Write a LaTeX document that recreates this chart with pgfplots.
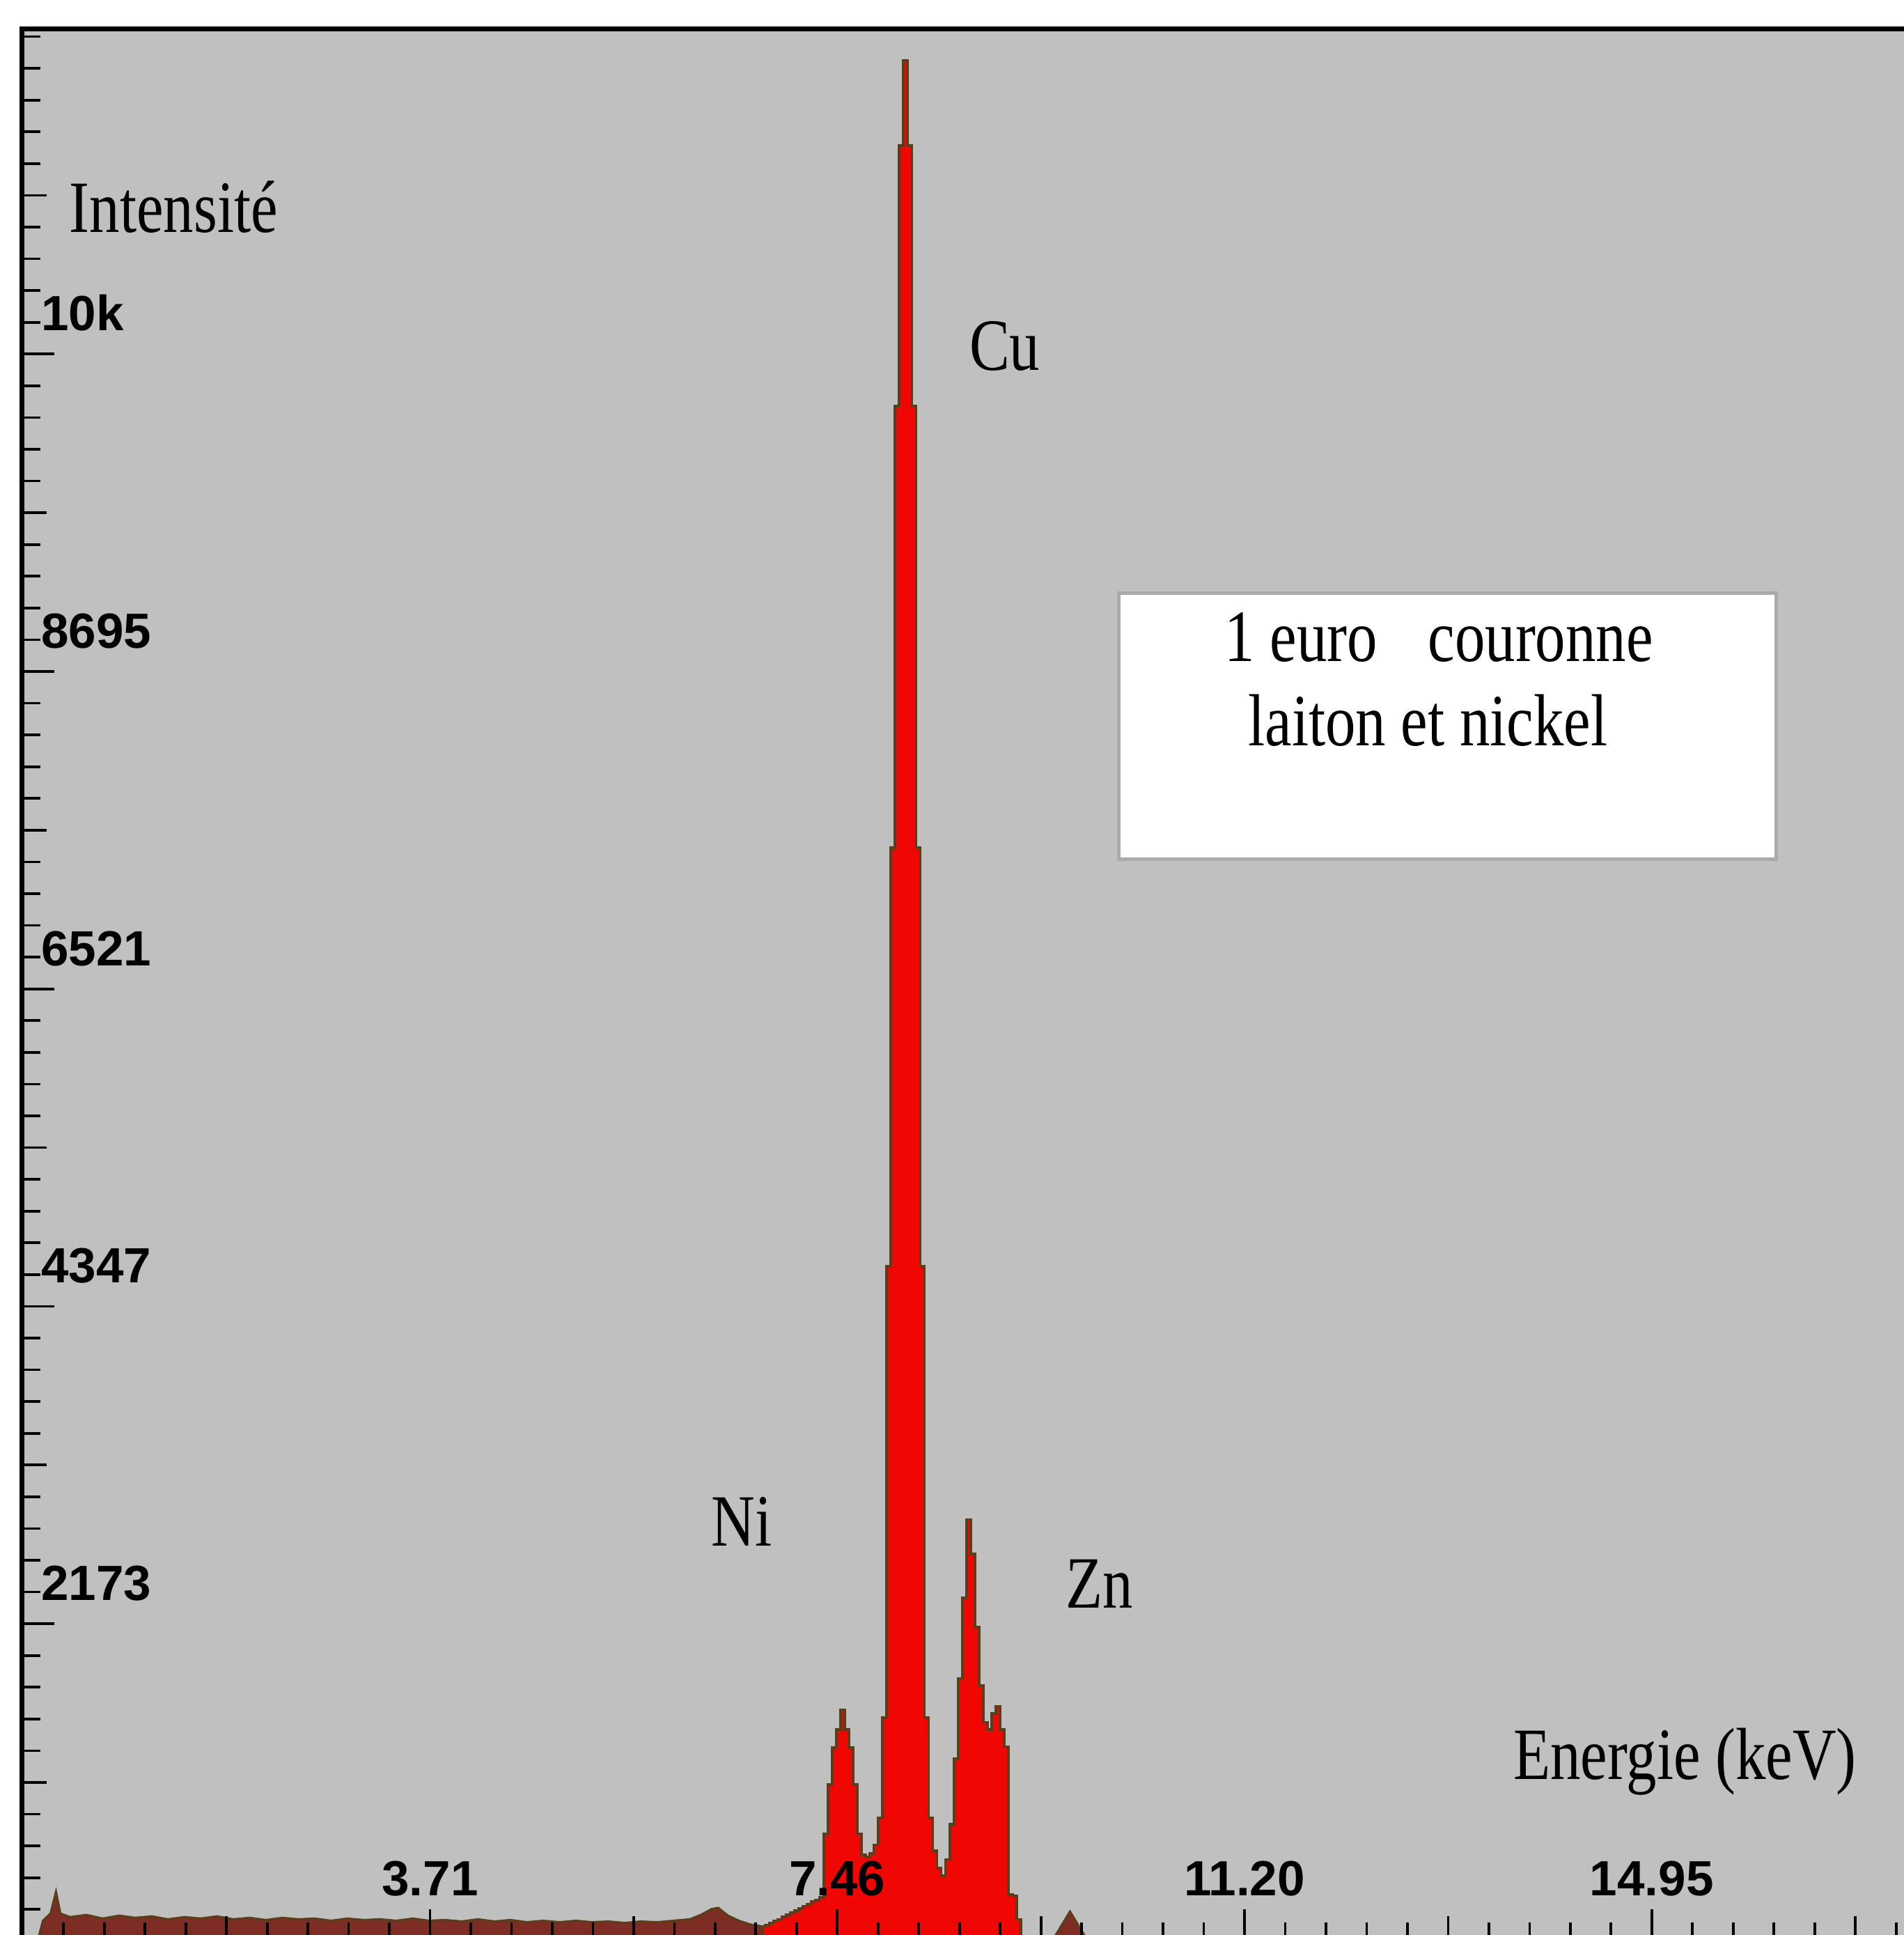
\documentclass[border=0pt]{standalone}
\usepackage{fontspec}
\setmainfont{Liberation Serif}
\setsansfont{Liberation Sans}
\usepackage{graphicx}
\usepackage{pgfplots}
\pgfplotsset{compat=1.18}
\definecolor{bggray}{RGB}{192,192,192}
\definecolor{specred}{RGB}{240,6,3}
\definecolor{specedge}{RGB}{88,62,28}
\definecolor{specbg}{RGB}{125,45,35}
\definecolor{boxedge}{RGB}{170,170,170}
\newcommand{\lbl}[1]{\scalebox{0.82}[1]{\fontsize{17}{20}\selectfont #1}}
\begin{document}
\begin{tikzpicture}[x=1mm,y=1mm]
\fill[white] (0,0) rectangle (154.3,156.8);
\begin{axis}[
  at={(1.78mm,-0.5mm)}, anchor=south west,
  scale only axis, width=154.22mm, height=154.95mm,
  xmin=-0.043, xmax=17.456, ymin=0, ymax=13095,
  axis background/.style={fill=bggray},
  axis line style={line width=1.1pt, black},
  axis on top,
  tick align=inside,
  xtick pos=left, ytick pos=left,
  tick style={black, line width=0.6pt},
  major tick length=2.6mm,
  minor tick length=1.5mm,
  xtick={3.71,7.455,11.2,14.945},
  xticklabels={3.71,7.46,11.20,14.95},
  minor xtick={-0.035,0.3395,...,17.5},
  extra x ticks={1.8375,5.5825,9.3275,13.0725,16.8175},
  extra x tick labels={},
  extra x tick style={major tick length=2.0mm},
  ytick={2173.75,4347.5,6521.25,8695,10868.75},
  yticklabels={2173,4347,6521,8695,10k},
  minor ytick={0,217.375,...,13050},
  extra y ticks={1086.875,3260.625,5434.375,7608.125,9781.875,11955.625},
  extra y tick labels={},
  extra y tick style={major tick length=2.0mm},
  xticklabel style={font=\sffamily\bfseries\fontsize{11.4}{13}\selectfont, anchor=base, yshift=3.7mm, inner sep=0pt},
  yticklabel style={font=\sffamily\bfseries\fontsize{11.4}{13}\selectfont, anchor=base west, xshift=1.5mm, yshift=1.9mm, inner sep=0pt},
]
% low-energy background and small peaks (outside the shaded region)
\addplot[fill=specbg, draw=specedge, line width=0.5pt] coordinates {
(0.10,0) (0.15,140) (0.22,190) (0.27,338) (0.31,190) (0.40,165) (0.55,180)
(0.70,155) (0.85,175) (1.00,160) (1.15,170) (1.30,150) (1.45,165) (1.60,155)
(1.75,170) (1.90,150) (2.05,160) (2.20,145) (2.35,160) (2.50,150) (2.65,155)
(2.80,140) (2.95,155) (3.10,145) (3.25,150) (3.40,140) (3.55,155) (3.70,140)
(3.85,145) (4.00,135) (4.15,150) (4.30,135) (4.45,145) (4.60,130) (4.75,140)
(4.90,130) (5.05,140) (5.20,130) (5.35,135) (5.50,125) (5.65,135) (5.80,130)
(5.95,140) (6.10,150) (6.20,180) (6.30,220) (6.36,228) (6.45,175) (6.55,140)
(6.65,115) (6.7711,100)
} \closedcycle;
\addplot[fill=specbg, draw=specedge, line width=0.5pt] coordinates {
(9.43,0) (9.595,203) (9.76,0)
} \closedcycle;
% Ni, Cu, Zn region
\addplot[const plot mark mid, fill=specred, draw=specedge, line width=0.6pt] coordinates {
(6.7711,100) (6.8097,110) (6.8483,125) (6.8869,140) (6.9255,150) (6.9641,165)
(7.0027,180) (7.0412,195) (7.0798,210) (7.1184,225) (7.1570,240) (7.1956,255)
(7.2342,270) (7.2728,280) (7.3113,300) (7.3499,735) (7.3885,1073) (7.4271,1327)
(7.4657,1450) (7.5043,1585) (7.5429,1450) (7.5815,1327) (7.6200,1073) (7.6586,735)
(7.6972,590) (7.7358,575) (7.7744,600) (7.8130,660) (7.8516,845) (7.8902,1530)
(7.9287,4623) (7.9673,7488) (8.0059,10513) (8.0445,12296) (8.0831,12879)
(8.1217,12296) (8.1603,10513) (8.1989,7488) (8.2374,4623) (8.2760,1530)
(8.3146,845) (8.3532,620) (8.3918,500) (8.4304,448) (8.4690,560) (8.5076,800)
(8.5461,1250) (8.5847,1800) (8.6233,2350) (8.6619,2887) (8.7005,2650)
(8.7391,2150) (8.7777,1750) (8.8163,1500) (8.8548,1450) (8.8934,1560)
(8.9320,1609) (8.9706,1450) (9.0092,1330) (9.0478,320) (9.0864,310)
(9.1250,150) (9.1636,0)
} \closedcycle;
\end{axis}
\node[anchor=base west, inner sep=0pt] at (5.57,138.0) {\lbl{Intensité}};
\node[anchor=base west, inner sep=0pt] at (78.5,126.8) {\lbl{Cu}};
\node[anchor=base west, inner sep=0pt] at (57.6,31.5) {\lbl{Ni}};
\node[anchor=base west, inner sep=0pt] at (86.3,26.5) {\lbl{Zn}};
\node[anchor=base west, inner sep=0pt] at (122.6,12.6) {\lbl{Energie (keV)}};
\draw[boxedge, line width=0.8pt, fill=white] (90.67,87.2) rectangle (143.94,108.74);
\node[anchor=base west, inner sep=0pt] at (99.2,103.2) {\lbl{1 euro\hspace{5.0mm}couronne}};
\node[anchor=base west, inner sep=0pt] at (101.1,96.4) {\lbl{laiton et nickel}};
\pgfresetboundingbox
\useasboundingbox (0,0) rectangle (154.3,156.8);
\end{tikzpicture}
\end{document}
